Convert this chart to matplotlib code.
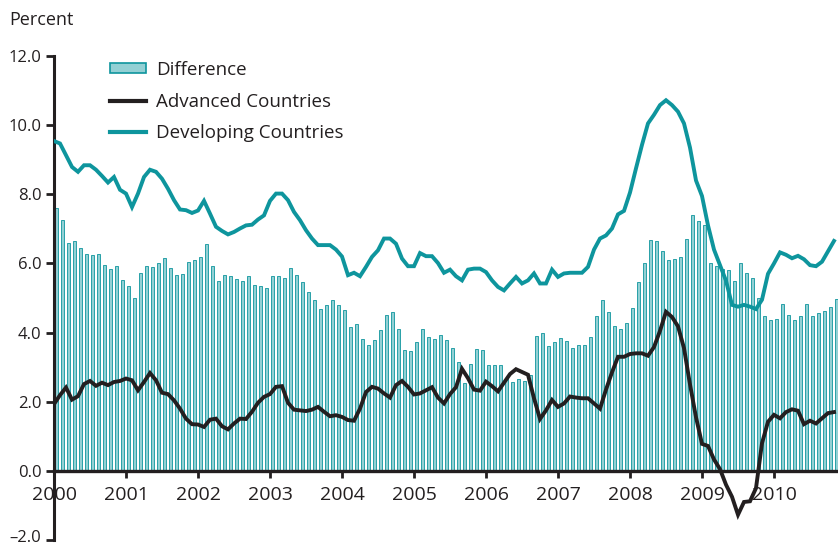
import numpy as np
import matplotlib
matplotlib.use('Agg')
import matplotlib.pyplot as plt
from matplotlib.patches import Patch
from matplotlib.lines import Line2D
from matplotlib.transforms import ScaledTranslation

plt.rcParams['font.family'] = ['Open Sans', 'DejaVu Sans']

## monthly data, Jan 2000 - Nov 2010 (percent)
years = ['2000', '2001', '2002', '2003', '2004', '2005',
         '2006', '2007', '2008', '2009', '2010']

difference = [
    7.61, 7.27, 6.59, 6.66, 6.45, 6.28, 6.23, 6.27, 5.96, 5.85, 5.92, 5.52,
    5.36, 5.01, 5.71, 5.92, 5.89, 6.01, 6.17, 5.88, 5.66, 5.68, 6.03, 6.09,
    6.19, 6.55, 5.93, 5.49, 5.66, 5.64, 5.54, 5.50, 5.65, 5.39, 5.34, 5.30,
    5.63, 5.63, 5.58, 5.88, 5.66, 5.47, 5.18, 4.95, 4.67, 4.79, 4.93, 4.79,
    4.65, 4.16, 4.26, 3.81, 3.65, 3.79, 4.06, 4.50, 4.60, 4.11, 3.50, 3.47,
    3.72, 4.09, 3.87, 3.80, 3.93, 3.79, 3.56, 3.16, 2.54, 3.10, 3.53, 3.49,
    3.07, 3.06, 3.05, 2.70, 2.57, 2.67, 2.59, 2.77, 3.89, 3.99, 3.61, 3.74,
    3.83, 3.76, 3.54, 3.64, 3.64, 3.86, 4.49, 4.95, 4.60, 4.18, 4.09, 4.28,
    4.71, 5.47, 6.00, 6.68, 6.66, 6.37, 6.10, 6.13, 6.18, 6.70, 7.40, 7.22,
    7.10, 6.00, 5.94, 5.83, 5.80, 5.50, 6.00, 5.71, 5.59, 5.00, 4.48, 4.37,
    4.39, 4.82, 4.51, 4.35, 4.49, 4.82, 4.48, 4.58, 4.63, 4.75, 4.97]

advanced = [
    1.93, 2.19, 2.41, 2.06, 2.16, 2.51, 2.60, 2.46, 2.55, 2.48, 2.57, 2.60,
    2.67, 2.62, 2.33, 2.57, 2.83, 2.62, 2.26, 2.22, 2.04, 1.80, 1.51, 1.35,
    1.34, 1.27, 1.48, 1.51, 1.29, 1.20, 1.37, 1.51, 1.50, 1.71, 1.97, 2.14,
    2.22, 2.43, 2.45, 1.97, 1.77, 1.75, 1.73, 1.77, 1.85, 1.71, 1.58, 1.61,
    1.56, 1.47, 1.45, 1.80, 2.28, 2.43, 2.38, 2.24, 2.12, 2.48, 2.60, 2.43,
    2.21, 2.24, 2.33, 2.42, 2.12, 1.95, 2.22, 2.42, 2.95, 2.68, 2.35, 2.32,
    2.58, 2.45, 2.30, 2.55, 2.80, 2.94, 2.86, 2.78, 2.10, 1.50, 1.75, 2.05,
    1.85, 1.95, 2.15, 2.12, 2.10, 2.10, 1.95, 1.80, 2.35, 2.85, 3.30, 3.30,
    3.38, 3.40, 3.40, 3.33, 3.58, 4.05, 4.60, 4.45, 4.18, 3.55, 2.50, 1.55,
    0.78, 0.72, 0.33, 0.05, -0.40, -0.75, -1.27, -0.90, -0.88, -0.50, 0.80, 1.42,
    1.62, 1.52, 1.70, 1.78, 1.74, 1.35, 1.45, 1.37, 1.52, 1.67, 1.70]

developing = [
    9.54, 9.47, 9.13, 8.79, 8.65, 8.84, 8.84, 8.71, 8.53, 8.34, 8.50, 8.13,
    8.02, 7.63, 8.02, 8.50, 8.71, 8.65, 8.45, 8.16, 7.83, 7.56, 7.54, 7.46,
    7.53, 7.81, 7.44, 7.06, 6.94, 6.84, 6.91, 7.01, 7.10, 7.12, 7.27, 7.39,
    7.81, 8.02, 8.02, 7.83, 7.49, 7.25, 6.96, 6.72, 6.53, 6.53, 6.53, 6.40,
    6.20, 5.66, 5.73, 5.63, 5.90, 6.19, 6.38, 6.72, 6.72, 6.57, 6.14, 5.92,
    5.92, 6.30, 6.21, 6.21, 6.01, 5.73, 5.82, 5.63, 5.51, 5.82, 5.85, 5.85,
    5.75, 5.51, 5.32, 5.22, 5.42, 5.61, 5.42, 5.51, 5.71, 5.42, 5.42, 5.82,
    5.61, 5.71, 5.73, 5.73, 5.73, 5.90, 6.40, 6.72, 6.81, 7.01, 7.42, 7.52,
    8.05, 8.75, 9.43, 10.05, 10.30, 10.58, 10.72, 10.58, 10.39, 10.05, 9.35, 8.40,
    7.95, 7.10, 6.40, 5.95, 5.50, 4.80, 4.75, 4.80, 4.75, 4.68, 4.95, 5.70,
    6.00, 6.32, 6.25, 6.15, 6.22, 6.12, 5.95, 5.92, 6.05, 6.35, 6.65]

y_ticks = [-2.0, 0.0, 2.0, 4.0, 6.0, 8.0, 10.0, 12.0]

teal = '#0e959d'
bar_fill = '#93d0d4'
ink = '#231f20'

months = np.arange(len(difference))

fig = plt.figure(figsize=(8.38, 5.48), dpi=100)
ax = fig.add_axes([54/838, 8/548, 784/838, 484/548])

ax.bar(months + 0.4, difference, width=0.5, color=bar_fill,
       edgecolor=teal, linewidth=0.6, zorder=2)
ax.plot(months, developing, color=teal, linewidth=2.8, zorder=3,
        solid_joinstyle='miter')
ax.plot(months, advanced, color=ink, linewidth=2.8, zorder=4,
        solid_joinstyle='miter')

ax.set_xlim(0, 784/6)
ax.set_ylim(-2, 12)

for s in ['top', 'right']:
    ax.spines[s].set_visible(False)
ax.spines['left'].set_linewidth(2.2)
ax.spines['left'].set_color(ink)
ax.spines['bottom'].set_position(('data', 0))
ax.spines['bottom'].set_linewidth(2.4)
ax.spines['bottom'].set_color(ink)
ax.spines['bottom'].set_zorder(3.5)

ax.set_xticks(np.arange(len(years)) * 12)
ax.set_xticklabels(years, fontsize=14, color=ink)
ax.tick_params(axis='x', length=5, width=2, color=ink, pad=6)

ax.set_yticks(y_ticks)
ax.set_yticklabels([('\u2013%.1f' % abs(v)) if v < 0 else '%.1f' % v for v in y_ticks],
                   fontsize=12, color=ink)
ax.tick_params(axis='y', length=6, width=2, color=ink, pad=3)

# lift the bottom tick label a little so it stays inside the canvas
low = ax.get_yticklabels()[0]
low.set_transform(low.get_transform() + ScaledTranslation(0, 4/100, fig.dpi_scale_trans))

fig.text(9/838, 1 - 20/548, 'Percent', fontsize=13, color=ink, va='center', ha='left')

handles = [Patch(facecolor=bar_fill, edgecolor=teal, linewidth=1.2),
           Line2D([], [], color=ink, linewidth=3),
           Line2D([], [], color=teal, linewidth=3)]
labels = ['Difference', 'Advanced Countries', 'Developing Countries']
fig.legend(handles, labels, loc='upper left', bbox_to_anchor=(110/838, 1 - 61/548),
           frameon=False, fontsize=13.5, handlelength=1.9, handleheight=0.45,
           handletextpad=0.55, labelspacing=0.72, borderpad=0, borderaxespad=0,
           labelcolor=ink)

fig.savefig('out.png', dpi=100)
